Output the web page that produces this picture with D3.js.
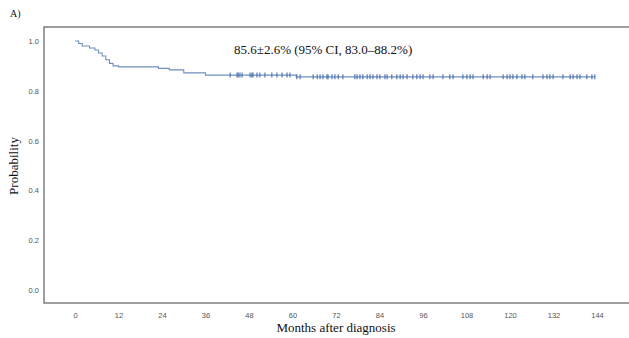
<!DOCTYPE html>
<html>
<head>
<meta charset="utf-8">
<script src="https://cdn.jsdelivr.net/npm/d3@7"></script>
<style>
  body { margin: 0; background: #fff; }
  .tick text { font-family: "Liberation Sans", Arial, sans-serif; font-size: 7.5px; fill: #555; }
  .title { font-family: "Liberation Serif", "Times New Roman", serif; fill: #111; }
</style>
</head>
<body>
<script>
// Kaplan-Meier steps (months, survival probability)
var event_times = [0, 1, 2, 4, 5.5, 6.5, 7.5, 8.5, 9.5, 10.5, 12, 23, 26, 30, 36, 61, 143.5];
var event_surv  = [1.0, 0.99, 0.98, 0.972, 0.964, 0.952, 0.94, 0.925, 0.91, 0.9, 0.896, 0.89, 0.884, 0.872, 0.863, 0.856, 0.856];

// censored observations (months)
var censor_times = [42.8, 44.7, 45, 45.5, 46.1, 48.3, 48.8, 49.1, 50.2, 51, 52.4, 54.3, 55.7, 57.1, 58.5, 59.3,
  61.2, 62.1, 65.7, 66.8, 67.6, 68.4, 69.5, 69.8, 70.9, 71.7, 72.6, 73.9, 77.2, 77.8, 78.6, 79.4, 80.6, 81.4,
  82.2, 83.3, 84.1, 85.5, 86.1, 87.4, 88.8, 89.7, 90.5, 91.6, 93.2, 94.3, 95.2, 96, 97.9, 98.8, 101.5, 103.4,
  104.3, 107, 108.1, 109, 109.8, 112.6, 113.7, 114.5, 118.1, 119.2, 120, 120.8, 121.9, 123.3, 124.1, 126.3,
  129.1, 130.2, 131, 131.9, 134.6, 136.6, 137.4, 138.5, 139.3, 141.2, 142.6, 143.4];

var x_ticks = [0, 12, 24, 36, 48, 60, 72, 84, 96, 108, 120, 132, 144];
var y_ticks = [0.0, 0.2, 0.4, 0.6, 0.8, 1.0];
var annotation = "85.6±2.6% (95% CI, 83.0–88.2%)";

var width = 629, height = 338;
var box = {left: 44, top: 27, right: 640, bottom: 303};

var svg = d3.select("body").append("svg")
    .attr("width", width)
    .attr("height", height);

var x = d3.scaleLinear().domain([0, 144]).range([75, 597]);
var y = d3.scaleLinear().domain([0, 1]).range([290, 41]);

// frame
svg.append("rect")
    .attr("x", box.left).attr("y", box.top)
    .attr("width", box.right - box.left).attr("height", box.bottom - box.top)
    .attr("fill", "none").attr("stroke", "#6b6b6b").attr("stroke-width", 1.3);

// axes (labels only, no tick marks)
var xAxis = svg.append("g")
    .attr("transform", "translate(0," + box.bottom + ")")
    .call(d3.axisBottom(x).tickValues(x_ticks).tickSize(0).tickPadding(10));
xAxis.select(".domain").remove();

var yAxis = svg.append("g")
    .attr("transform", "translate(" + box.left + ",0)")
    .call(d3.axisLeft(y).tickValues(y_ticks).tickSize(0).tickPadding(5).tickFormat(d3.format(".1f")));
yAxis.select(".domain").remove();

// survival curve
var pts = event_times.map(function(t, i) { return [t, event_surv[i]]; });
var line = d3.line()
    .x(function(d) { return x(d[0]); })
    .y(function(d) { return y(d[1]); })
    .curve(d3.curveStepAfter);

svg.append("path")
    .datum(pts)
    .attr("d", line)
    .attr("fill", "none")
    .attr("stroke", "#6f8fc0")
    .attr("stroke-width", 1.1);

// censor marks
function survAt(t) {
  var s = event_surv[0];
  for (var i = 0; i < event_times.length; i++) {
    if (event_times[i] <= t) s = event_surv[i];
  }
  return s;
}
svg.append("g").selectAll("line")
    .data(censor_times)
  .enter().append("line")
    .attr("x1", function(d) { return x(d); })
    .attr("x2", function(d) { return x(d); })
    .attr("y1", function(d) { return y(survAt(d)) - 2.5; })
    .attr("y2", function(d) { return y(survAt(d)) + 2.5; })
    .attr("stroke", "#4a6fae")
    .attr("stroke-width", 1.1);

// texts
svg.append("text").attr("class", "title")
    .attr("x", 10).attr("y", 17)
    .style("font-size", "10px")
    .text("A)");

svg.append("text").attr("class", "title")
    .attr("x", 234).attr("y", 54)
    .style("font-size", "13px")
    .text(annotation);

svg.append("text").attr("class", "title")
    .attr("x", 336).attr("y", 332)
    .attr("text-anchor", "middle")
    .style("font-size", "13px")
    .text("Months after diagnosis");

svg.append("text").attr("class", "title")
    .attr("transform", "translate(18," + 166 + ") rotate(-90)")
    .attr("text-anchor", "middle")
    .style("font-size", "13px")
    .text("Probability");
</script>
</body>
</html>
